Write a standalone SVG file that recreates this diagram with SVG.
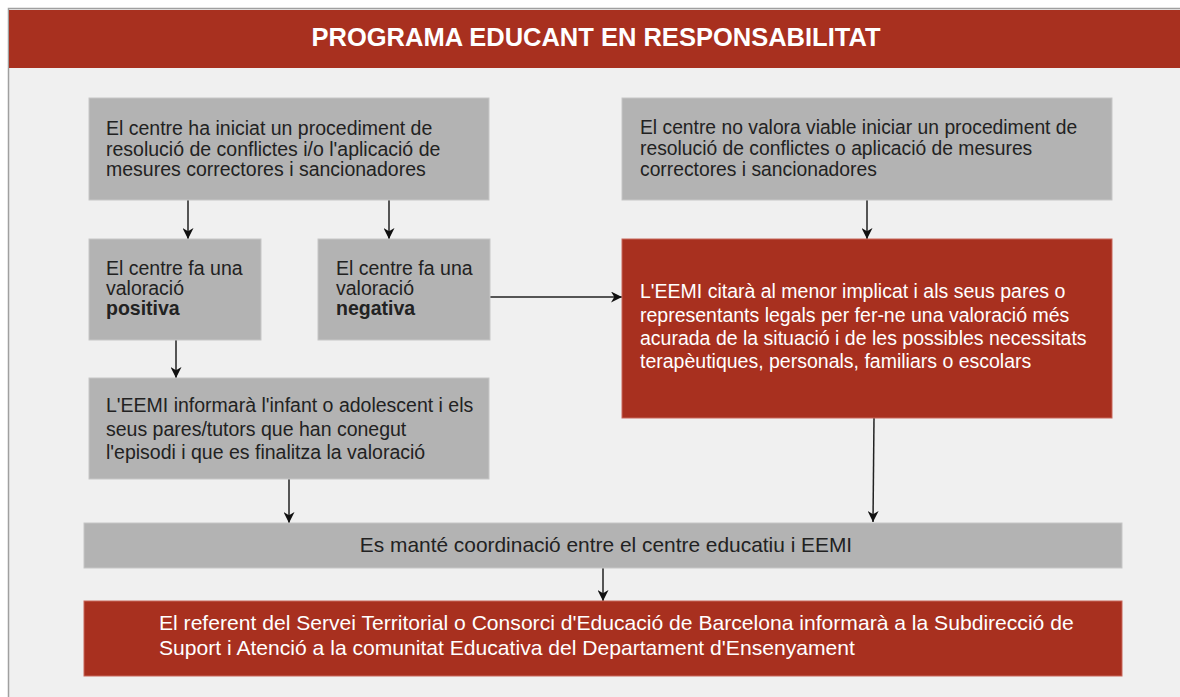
<svg xmlns="http://www.w3.org/2000/svg" width="1180" height="697" viewBox="0 0 1180 697">
<style>
text{font-family:"Liberation Sans",Arial,sans-serif}
.g{fill:#b3b3b3;stroke:#c6c6c6;stroke-width:1}
.r{fill:#a8301f;stroke:#c8665a;stroke-width:1}
.t{font-size:19.5px;fill:#222}
.w{font-size:19.5px;fill:#ffffff}
.tb{font-size:19.3px}
.tc{font-size:20.9px}
.tf{font-size:21.1px}
.c{stroke:#222;stroke-width:1.5;fill:none;marker-end:url(#ah)}
</style>
<defs>
<marker id="ah" viewBox="0 0 10 10" refX="10" refY="5" markerWidth="11" markerHeight="11" markerUnits="userSpaceOnUse" orient="auto">
<path d="M0,0 L10,5 L0,10 L3,5 Z" fill="#111"/>
</marker>
</defs>
<rect x="8.5" y="8.5" width="1180" height="700" fill="#f0f0f0" stroke="#a0a0a0" stroke-width="1.5"/>
<g id="header">
<rect x="9" y="10" width="1171" height="58" fill="#a8301f"/>
<text x="596" y="46" text-anchor="middle" font-size="25.5" font-weight="bold" fill="#fff">PROGRAMA EDUCANT EN RESPONSABILITAT</text>
</g>
<g id="connectors">
<line class="c" x1="188" y1="200" x2="188" y2="239"/>
<line class="c" x1="389" y1="200" x2="389" y2="239"/>
<line class="c" x1="176" y1="340" x2="176" y2="378"/>
<line class="c" x1="289" y1="479" x2="289" y2="523"/>
<line class="c" x1="867" y1="200" x2="867" y2="239"/>
<line class="c" x1="490" y1="297" x2="622" y2="297"/>
<line class="c" x1="874" y1="418" x2="873" y2="522"/>
<line class="c" x1="603" y1="568" x2="603" y2="601"/>
</g>
<g id="boxA">
<rect class="g" x="89" y="98" width="400" height="102"/>
<text class="t" x="106" y="135">El centre ha iniciat un procediment de</text>
<text class="t" x="106" y="155.5">resolució de conflictes i/o l'aplicació de</text>
<text class="t" x="106" y="176">mesures correctores i sancionadores</text>
</g>
<g id="boxPos">
<rect class="g" x="89" y="239" width="172" height="101"/>
<text class="t" x="106" y="275">El centre fa una</text>
<text class="t" x="106" y="295">valoració</text>
<text class="t" x="106" y="315" font-weight="bold">positiva</text>
</g>
<g id="boxNeg">
<rect class="g" x="318" y="239" width="172" height="101"/>
<text class="t" x="336" y="275">El centre fa una</text>
<text class="t" x="336" y="295">valoració</text>
<text class="t" x="336" y="315" font-weight="bold">negativa</text>
</g>
<g id="boxInform">
<rect class="g" x="89" y="378" width="400" height="101"/>
<text class="t" x="106" y="412">L'EEMI informarà l'infant o adolescent i els</text>
<text class="t" x="106" y="436">seus pares/tutors que han conegut</text>
<text class="t" x="106" y="459">l'episodi i que es finalitza la valoració</text>
</g>
<g id="boxB">
<rect class="g" x="622" y="98" width="490" height="102"/>
<text class="t tb" x="640" y="134">El centre no valora viable iniciar un procediment de</text>
<text class="t tb" x="640" y="155">resolució de conflictes o aplicació de mesures</text>
<text class="t tb" x="640" y="176">correctores i sancionadores</text>
</g>
<g id="boxC">
<rect class="r" x="622" y="239" width="490" height="179"/>
<text class="w" x="640" y="298">L'EEMI citarà al menor implicat i als seus pares o</text>
<text class="w" x="640" y="321.5">representants legals per fer-ne una valoració més</text>
<text class="w" x="640" y="345">acurada de la situació i de les possibles necessitats</text>
<text class="w" x="640" y="368">terapèutiques, personals, familiars o escolars</text>
</g>
<g id="boxCoord">
<rect class="g" x="84" y="523" width="1038" height="45"/>
<text class="t tc" x="606" y="552" text-anchor="middle">Es manté coordinació entre el centre educatiu i EEMI</text>
</g>
<g id="boxFinal">
<rect class="r" x="84" y="601" width="1038" height="75"/>
<text class="w tf" x="159" y="630">El referent del Servei Territorial o Consorci d'Educació de Barcelona informarà a la Subdirecció de</text>
<text class="w tf" x="159" y="655">Suport i Atenció a la comunitat Educativa del Departament d'Ensenyament</text>
</g>
</svg>
